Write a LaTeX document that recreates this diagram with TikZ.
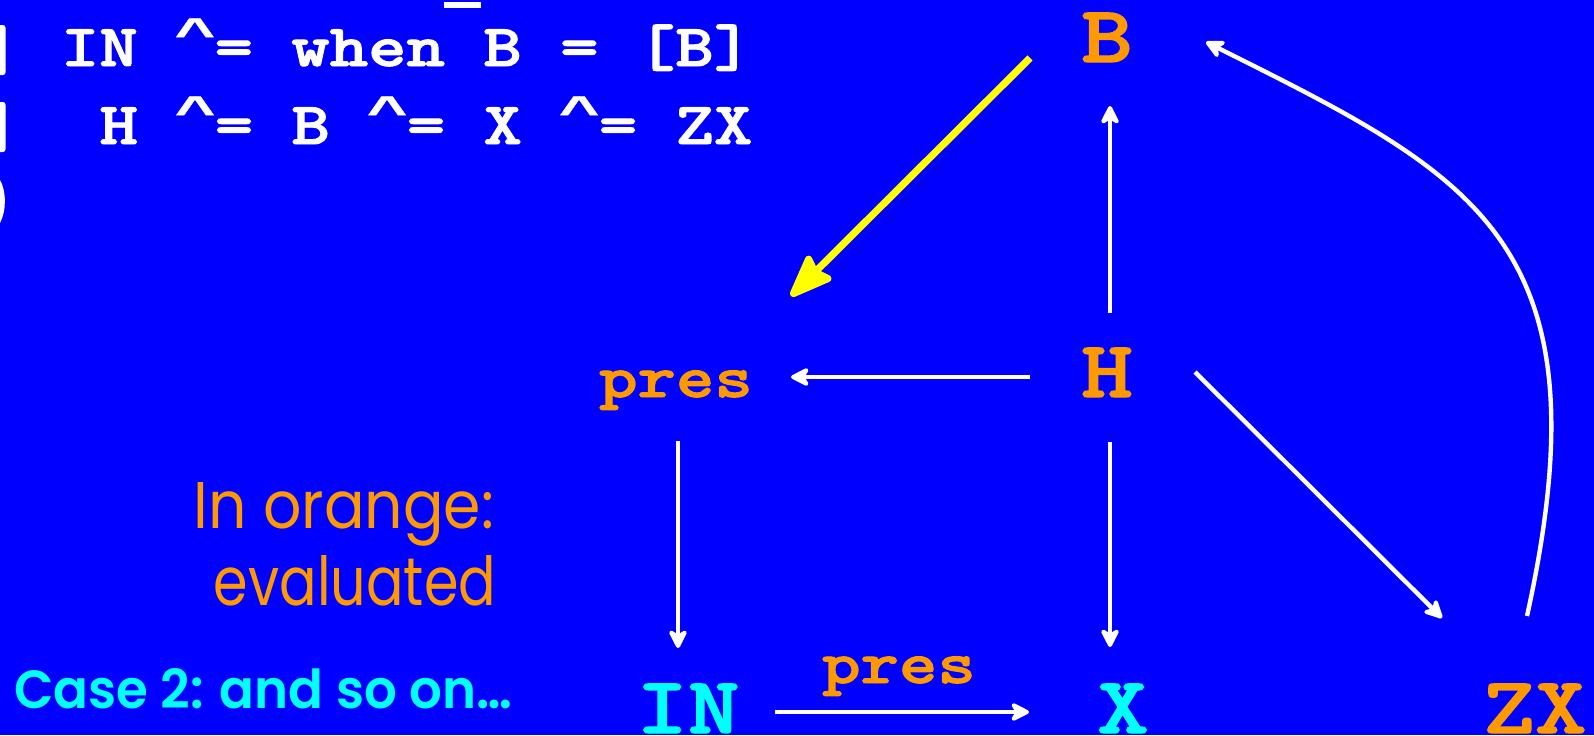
\documentclass[tikz,border=0pt]{standalone}
\usepackage{fontspec}
\usetikzlibrary{arrows.meta,calc}
\newfontfamily\courfont{lmmonolt10-bold.otf}[FakeBold=1.6]
\newfontfamily\caretfont{Liberation Mono}[FakeBold=0.6]
\newfontfamily\comicfont{Poppins}
\newfontfamily\comicbold{Poppins SemiBold}
\definecolor{bg}{HTML}{0000FF}
\definecolor{org}{HTML}{FF9900}
\definecolor{cyn}{HTML}{00FFFF}
\definecolor{yel}{HTML}{FFFF00}
\newcommand\cour[2]{\scalebox{1.143}[0.935]{\fontsize{#1}{#1}\selectfont\courfont #2}}
\newcommand\crt{\makebox[0.525em]{\raisebox{0.3em}{\scalebox{0.95}[0.72]{\caretfont\bfseries\char94\relax}}}}
\begin{document}
\begin{tikzpicture}[x=0.5pt,y=-0.5pt,
  txt/.style={inner sep=0pt,outer sep=0pt,anchor=base},
  wa/.style={draw=white,line width=2.2pt,-{Stealth[length=11.5pt,width=11.5pt,inset=3.5pt,round]}},
  ya/.style={draw=yel,line width=3.6pt,-{Stealth[length=25pt,width=19pt,inset=3pt,round]}}]
\fill[bg] (0,0) rectangle (1594,735);
\useasboundingbox (0,0) rectangle (1594,735);
% clipped glyphs at the left edge
\fill[white,rounded corners=1.3pt] (-8,25) rectangle (5.5,75);
\fill[white,rounded corners=1.3pt] (-8,102) rectangle (5.5,152);
\fill[white] (0,180) .. controls (6.5,191) and (6.5,211) .. (0,223) -- cycle;
% top text
\node[txt,anchor=base west,text=white] (l1) at (61,66) {\cour{32pt}{IN \crt= when B = [B]}};
\node[txt,anchor=base west,text=white] (l2) at (99.6,144) {\cour{32pt}{H \crt= B \crt= X \crt= ZX}};
\fill[white] (444,2) rectangle (481,8);
% comments
\node[txt,anchor=base east,text=org] (o1) at (494,528) {\resizebox{150pt}{23pt}{\comicfont In orange:}};
\node[txt,anchor=base east,text=org] (o2) at (496,605) {\resizebox{141pt}{25pt}{\comicfont evaluated}};
\node[txt,anchor=base west,text=cyn] (c2) at (14,708) {\resizebox{249pt}{20pt}{\comicbold Case 2: and so on…}};
% graph nodes
\node[txt,text=org] (B) at (1107,62) {\cour{43pt}{B}};
\node[txt,text=org] (H) at (1107,397) {\cour{43pt}{H}};
\node[txt,text=org] (P) at (676,397) {\cour{32pt}{pres}};
\node[txt,text=cyn] (IN) at (688,733) {\cour{43pt}{IN}};
\node[txt,text=cyn] (X) at (1123,733) {\cour{43pt}{X}};
\node[txt,text=org] (ZX) at (1535,733) {\cour{43pt}{ZX}};
\node[txt,text=org] (lbl) at (899,683) {\cour{32pt}{pres}};
% connectors
\draw[ya] ($(B.base)+(-77,-4)$) -- ($(P.base)+(115,-101)$);
\draw[wa] ($(H.base)+(3,-84)$) -- ($(B.base)+(3,44)$);
\draw[wa] ($(H.base)+(-77,-20)$) -- ($(P.base)+(115,-20)$);
\draw[wa] ($(P.base)+(2,44)$) -- ($(IN.base)+(-10,-85)$);
\draw[wa] ($(H.base)+(3,45)$) -- ($(X.base)+(-13,-86)$);
\draw[wa] ($(H.base)+(88,-25)$) -- ($(ZX.base)+(-93,-115)$);
\draw[wa] ($(IN.base)+(87,-21)$) -- ($(X.base)+(-94,-21)$);
\draw[wa] ($(ZX.base)+(-8,-117)$) .. controls (1610,240) and (1474,176) .. ($(B.base)+(99,-20)$);
\end{tikzpicture}
\end{document}
